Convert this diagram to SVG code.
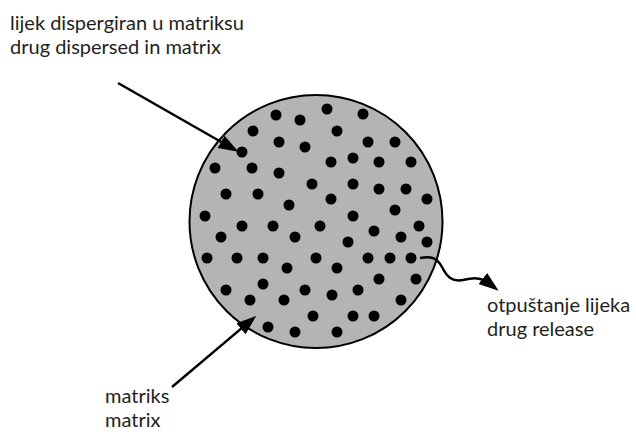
<svg xmlns="http://www.w3.org/2000/svg" width="636" height="432" viewBox="0 0 636 432">
<style>
.lbl{font-family:Lato,"Open Sans","Liberation Sans",sans-serif;font-size:20px;fill:#231f20}
.dot{fill:#000}
.conn{fill:none;stroke:#000;stroke-width:2.5}
</style>
<defs>
<marker id="ah" markerUnits="userSpaceOnUse" markerWidth="20" markerHeight="16" viewBox="0 0 17 12" refX="13" refY="6" orient="auto">
<path d="M0,0 L17,6 L0,12 Z" fill="#000"/>
</marker>
</defs>
<rect width="636" height="432" fill="#fff"/>
<g id="matrix">
<circle cx="316" cy="221.5" r="126.5" fill="#b4b4b4" stroke="#000" stroke-width="2"/>
<g class="dot">
<circle cx="276" cy="115" r="5.5"/><circle cx="300" cy="120" r="5.5"/><circle cx="327" cy="109" r="5.5"/><circle cx="363" cy="114" r="5.5"/>
<circle cx="253" cy="131" r="5.5"/><circle cx="337" cy="131" r="5.5"/><circle cx="279" cy="142" r="5.5"/><circle cx="305" cy="147" r="5.5"/>
<circle cx="368" cy="142" r="5.5"/><circle cx="395" cy="142" r="5.5"/><circle cx="242" cy="152" r="5.5"/><circle cx="353" cy="158" r="5.5"/>
<circle cx="331" cy="162" r="5.5"/><circle cx="379" cy="162" r="5.5"/><circle cx="411" cy="162" r="5.5"/><circle cx="215" cy="168" r="5.5"/>
<circle cx="252" cy="168" r="5.5"/><circle cx="279" cy="173" r="5.5"/><circle cx="312" cy="184" r="5.5"/><circle cx="353" cy="184" r="5.5"/>
<circle cx="379" cy="189" r="5.5"/><circle cx="406" cy="189" r="5.5"/><circle cx="226" cy="194" r="5.5"/><circle cx="258" cy="194" r="5.5"/>
<circle cx="331" cy="199" r="5.5"/><circle cx="427" cy="199" r="5.5"/><circle cx="289" cy="205" r="5.5"/><circle cx="395" cy="210" r="5.5"/>
<circle cx="205" cy="216" r="5.5"/><circle cx="353" cy="216" r="5.5"/><circle cx="242" cy="226" r="5.5"/><circle cx="273" cy="226" r="5.5"/>
<circle cx="320" cy="226" r="5.5"/><circle cx="374" cy="231" r="5.5"/><circle cx="419" cy="226" r="5.5"/><circle cx="221" cy="237" r="5.5"/>
<circle cx="295" cy="237" r="5.5"/><circle cx="348" cy="242" r="5.5"/><circle cx="401" cy="237" r="5.5"/><circle cx="427" cy="242" r="5.5"/>
<circle cx="207" cy="258" r="5.5"/><circle cx="237" cy="258" r="5.5"/><circle cx="263" cy="258" r="5.5"/><circle cx="316" cy="258" r="5.5"/>
<circle cx="368" cy="258" r="5.5"/><circle cx="390" cy="258" r="5.5"/><circle cx="411" cy="258" r="5.5"/><circle cx="287" cy="268" r="5.5"/>
<circle cx="337" cy="268" r="5.5"/><circle cx="263" cy="284" r="5.5"/><circle cx="379" cy="279" r="5.5"/><circle cx="416" cy="279" r="5.5"/>
<circle cx="226" cy="290" r="5.5"/><circle cx="305" cy="290" r="5.5"/><circle cx="358" cy="290" r="5.5"/><circle cx="250" cy="300" r="5.5"/>
<circle cx="284" cy="300" r="5.5"/><circle cx="332" cy="295" r="5.5"/><circle cx="401" cy="300" r="5.5"/><circle cx="313" cy="316" r="5.5"/>
<circle cx="353" cy="316" r="5.5"/><circle cx="374" cy="316" r="5.5"/><circle cx="268" cy="327" r="5.5"/><circle cx="295" cy="332" r="5.5"/>
<circle cx="337" cy="332" r="5.5"/>
</g>
</g>
<g id="label-drug">
<text class="lbl" x="10" y="30">lijek dispergiran u matriksu</text>
<text class="lbl" x="10" y="54">drug dispersed in matrix</text>
</g>
<g id="label-release">
<text class="lbl" x="487" y="312">otpuštanje lijeka</text>
<text class="lbl" x="487" y="336">drug release</text>
</g>
<g id="label-matrix">
<text class="lbl" x="105" y="403">matriks</text>
<text class="lbl" x="105" y="427">matrix</text>
</g>
<g id="connectors">
<path class="conn" d="M118,83 L234.4,149.5" marker-end="url(#ah)"/>
<path class="conn" d="M172,387 L252.7,318.9" marker-end="url(#ah)"/>
<path class="conn" d="M420,258 C432,256 437,258 442,267 C447,277 452,282 463,280 C472,278 478,277 486,281 L494.9,287.9" marker-end="url(#ah)"/>
</g>
</svg>
